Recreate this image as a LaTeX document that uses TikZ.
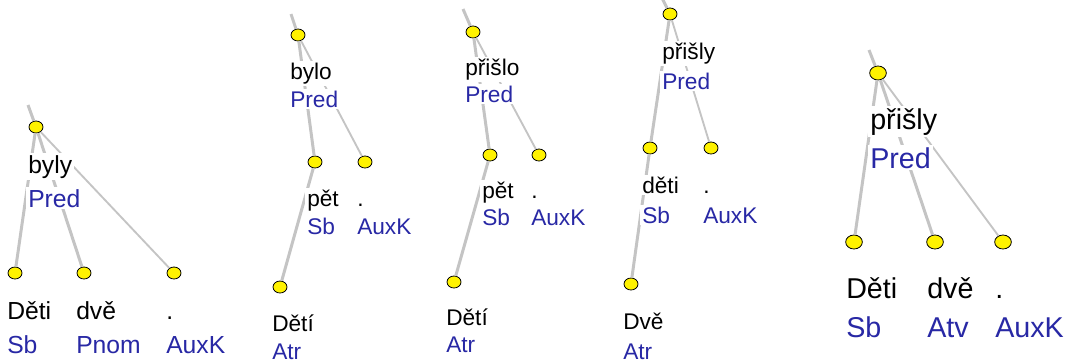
\documentclass[tikz,border=0pt]{standalone}
\usepackage{fontspec}
\setmainfont{Liberation Sans}
\usetikzlibrary{shapes.geometric}
\definecolor{funblue}{RGB}{40,40,165}
\definecolor{edgegray}{RGB}{196,196,196}
\tikzset{
	dot/.style={ellipse,draw=black,line width=0.6pt,fill=yellow,inner sep=0pt,
		minimum width=10.5pt,minimum height=9pt},
	bigdot/.style={dot,minimum width=12.5pt,minimum height=10.5pt},
	lbl/.style={anchor=base west,fill=white,inner sep=1.5pt},
	word/.style={lbl,text=black},
	func/.style={lbl,text=funblue},
	thk/.style={draw=edgegray,line width=2.25pt},
	thn/.style={draw=edgegray,line width=1.4pt}
}
\begin{document}
\begin{tikzpicture}[x=0.75pt,y=-0.75pt]
	\useasboundingbox (0,0) rectangle (1068,362);
	% byly
	\begin{scope}[font=\fontsize{18.5pt}{18.5pt}\selectfont]
		\coordinate (top1) at (28,105);
		\node[dot] (byly) at (36,127) {};
		\node[dot] (deti1) at (15,273) {};
		\node[dot] (dve1) at (84,273) {};
		\node[dot] (auxk1) at (174,273) {};
		\draw[thk] (top1) -- (byly);
		\draw[thk] (byly) -- (deti1);
		\draw[thk] (byly) -- (dve1);
		\draw[thn] (byly) -- (auxk1);
		\foreach \nd/\w/\f in {byly/byly/Pred, deti1/Děti/Sb, dve1/dvě/Pnom, auxk1/./AuxK}
		{
			\node[word] (\nd-w) at ([shift={(-10,46)}]\nd.center) {\w};
			\node[func] (\nd-f) at ([shift={(-10,80)}]\nd.center) {\f};
		}
	\end{scope}
	% bylo
	\begin{scope}[font=\fontsize{17pt}{17pt}\selectfont]
		\coordinate (top2) at (291,14);
		\node[dot] (bylo) at (298,35) {};
		\node[dot] (pet2) at (315,162) {};
		\node[dot] (auxk2) at (365,162) {};
		\node[dot] (deti2) at (280,287) {};
		\draw[thk] (top2) -- (bylo);
		\draw[thk] (bylo) -- (pet2);
		\draw[thn] (bylo) -- (auxk2);
		\draw[thk] (pet2) -- (deti2);
		\foreach \nd/\w/\f in {bylo/bylo/Pred, pet2/pět/Sb, auxk2/./AuxK, deti2/Dětí/Atr}
		{
			\node[word] (\nd-w) at ([shift={(-10,44)}]\nd.center) {\w};
			\node[func] (\nd-f) at ([shift={(-10,72)}]\nd.center) {\f};
		}
	\end{scope}
	% prislo
	\begin{scope}[font=\fontsize{17pt}{17pt}\selectfont]
		\coordinate (top3) at (463,9);
		\node[dot] (prislo) at (473,32) {};
		\node[dot] (pet3) at (490,155) {};
		\node[dot] (auxk3) at (539,155) {};
		\node[dot] (deti3) at (454,282) {};
		\draw[thk] (top3) -- (prislo);
		\draw[thk] (prislo) -- (pet3);
		\draw[thn] (prislo) -- (auxk3);
		\draw[thk] (pet3) -- (deti3);
		\foreach \nd/\w/\f in {prislo/přišlo/Pred, pet3/pět/Sb, auxk3/./AuxK, deti3/Dětí/Atr}
		{
			\node[word] (\nd-w) at ([shift={(-10,43)}]\nd.center) {\w};
			\node[func] (\nd-f) at ([shift={(-10,70)}]\nd.center) {\f};
		}
	\end{scope}
	% prisly
	\begin{scope}[font=\fontsize{17pt}{17pt}\selectfont]
		\coordinate (top4) at (662,-2);
		\node[dot] (prisly4) at (670,14) {};
		\node[dot] (deti4) at (650,148) {};
		\node[dot] (auxk4) at (711,148) {};
		\node[dot] (dve4) at (631,284) {};
		\draw[thk] (top4) -- (prisly4);
		\draw[thk] (prisly4) -- (deti4);
		\draw[thn] (prisly4) -- (auxk4);
		\draw[thk] (deti4) -- (dve4);
		\foreach \nd/\w/\f in {prisly4/přišly/Pred, deti4/děti/Sb, auxk4/./AuxK, dve4/Dvě/Atr}
		{
			\node[word] (\nd-w) at ([shift={(-10,45)}]\nd.center) {\w};
			\node[func] (\nd-f) at ([shift={(-10,75)}]\nd.center) {\f};
		}
	\end{scope}
	% prisly, Atv
	\begin{scope}[font=\fontsize{21.5pt}{21.5pt}\selectfont]
		\coordinate (top5) at (869,50);
		\node[bigdot] (prisly5) at (878,73) {};
		\node[bigdot] (deti5) at (854,242) {};
		\node[bigdot] (dve5) at (935,242) {};
		\node[bigdot] (auxk5) at (1003,242) {};
		\draw[thk] (top5) -- (prisly5);
		\draw[thk] (prisly5) -- (deti5);
		\draw[thk] (prisly5) -- (dve5);
		\draw[thn] (prisly5) -- (auxk5);
		\foreach \nd/\w/\f in {prisly5/přišly/Pred, deti5/Děti/Sb, dve5/dvě/Atv, auxk5/./AuxK}
		{
			\node[word] (\nd-w) at ([shift={(-10,56)}]\nd.center) {\w};
			\node[func] (\nd-f) at ([shift={(-10,95)}]\nd.center) {\f};
		}
	\end{scope}
\end{tikzpicture}
\end{document}
